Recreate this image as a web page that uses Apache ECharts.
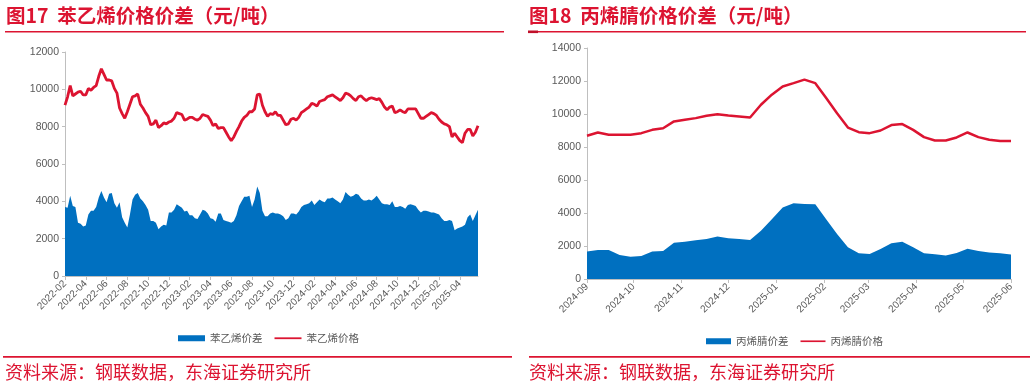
<!DOCTYPE html>
<html><head><meta charset="utf-8">
<script src="https://cdn.jsdelivr.net/npm/echarts@6/dist/echarts.min.js"></script>
<style>html,body{margin:0;padding:0;background:#fff}#c{width:1032px;height:386px}</style>
</head><body><div id="c"></div>
<script>
// ---------- Left chart (苯乙烯) : ~weekly samples, 4 per month from 2022-02 ----------
const leftTickLabels = ['2022-02','2022-04','2022-06','2022-08','2022-10','2022-12','2023-02','2023-04','2023-06','2023-08','2023-10','2023-12','2024-02','2024-04','2024-06','2024-08','2024-10','2024-12','2025-02','2025-04'];
const leftPrice = [
9150,9600,10200,9650,9750,9850,9900,9700,9700,10050,
9950,10100,10200,10700,11100,10800,10500,10500,10450,10050,
9800,9000,8700,8450,8800,9200,9600,9650,9750,9200,
9000,8750,8550,8100,8150,8350,7950,8050,8200,8150,
8250,8300,8450,8750,8700,8650,8350,8400,8500,8500,
8400,8350,8450,8650,8600,8550,8350,8050,8150,7900,
7950,7950,7700,7450,7250,7450,7750,8000,8300,8500,
8600,8800,8800,8950,9700,9750,9150,8800,8550,8700,
8650,8800,8600,8600,8350,8100,8150,8400,8450,8350,
8500,8750,8850,8950,9050,9250,9200,9100,9350,9400,
9450,9600,9650,9700,9600,9500,9400,9550,9800,9750,
9650,9500,9400,9600,9650,9500,9400,9500,9550,9500,
9450,9500,9300,9050,8900,9050,9100,8750,8800,8900,
8800,8750,8950,8950,8950,8950,8700,8450,8450,8550,
8650,8750,8700,8600,8400,8250,8150,8100,8000,7450,
7650,7450,7250,7150,7650,7850,7850,7500,7700,8050];
const leftSpread = [
3700,3650,4300,3750,3700,2850,2800,2650,2700,3300,
3500,3500,3700,4200,4550,4200,3950,4400,4450,3900,
3650,3950,3150,2850,2600,3300,4100,4350,4450,4150,
4000,3800,3550,2950,2950,2850,2500,2650,2750,2700,
3400,3400,3550,3850,3750,3650,3450,3500,3250,3250,
3100,3050,3300,3550,3500,3350,3100,3050,2900,3350,
3350,3000,2950,2900,2850,2950,3250,3750,4000,4250,
4250,4300,3700,4100,4800,4450,3500,3200,3200,3350,
3400,3350,3350,3300,3200,3000,3100,3350,3350,3300,
3450,3700,3800,3850,3900,4050,3800,3950,4100,4000,
3950,4150,4150,4200,4100,4000,3900,4100,4500,4350,
4250,4300,4400,4350,4150,4050,4050,4100,4050,4150,
4300,4100,3900,3850,3850,3800,4000,3700,3700,3750,
3700,3600,3800,3850,3800,3750,3550,3400,3500,3500,
3450,3400,3400,3350,3300,3100,2950,2950,3000,2950,
2450,2550,2600,2650,2750,3150,3300,2950,3250,3550];
const leftNames = ['苯乙烯价差','苯乙烯价格'];

// ---------- Right chart (丙烯腈) : weekly ----------
const rightDates = ['2024-09-01','2024-09-08','2024-09-15','2024-09-22','2024-09-29','2024-10-06','2024-10-13','2024-10-20','2024-10-27','2024-11-03','2024-11-10','2024-11-17','2024-11-24','2024-12-01','2024-12-08','2024-12-15','2024-12-22','2024-12-29','2025-01-05','2025-01-12','2025-01-19','2025-01-26','2025-02-02','2025-02-09','2025-02-16','2025-02-23','2025-03-02','2025-03-09','2025-03-16','2025-03-23','2025-03-30','2025-04-06','2025-04-13','2025-04-20','2025-04-27','2025-05-04','2025-05-11','2025-05-18','2025-05-25','2025-06-01'];
const rightPrice = [8680,8880,8740,8740,8740,8840,9040,9140,9550,9650,9750,9890,9990,9910,9850,9790,10560,11170,11670,11870,12080,11870,10970,10050,9180,8900,8840,9000,9330,9390,9040,8600,8390,8390,8580,8880,8600,8440,8360,8360];
const rightSpread = [1660,1760,1760,1460,1350,1400,1660,1700,2200,2260,2350,2430,2570,2470,2430,2370,2930,3620,4330,4590,4550,4530,3620,2730,1920,1560,1520,1820,2170,2260,1920,1560,1500,1420,1580,1840,1700,1600,1560,1480];
const rightTickLabels = ['2024-09','2024-10','2024-11','2024-12','2025-01','2025-02','2025-03','2025-04','2025-05','2025-06'];
const rightNames = ['丙烯腈价差','丙烯腈价格'];

const titles = ['图17  苯乙烯价格价差（元/吨）','图18  丙烯腈价格价差（元/吨）'];
const sourceText = '资料来源：钢联数据，东海证券研究所';

// ---------- build ----------
const RED = '#DC1431', BLUE = '#0070C0', GRAY = '#595959', AX = '#BFBFBF';
const CJK = '"Noto Sans CJK SC","Noto Sans",sans-serif';
const NUM = '"Liberation Sans",Arial,sans-serif';
const PER = 4; // samples per month on left axis
const leftCats = leftPrice.map((_, i) => {
  const m0 = 1 + Math.floor(i / PER);
  const y = 2022 + Math.floor(m0 / 12), m = (m0 % 12) + 1;
  return y + '-' + String(m).padStart(2, '0') + '-w' + (i % PER + 1);
});
const DAY = 86400000;
const toDay = s => { const p = s.split('-').map(Number); return Date.UTC(p[0], p[1] - 1, p[2] || 1) / DAY; };
const rightTicks = rightTickLabels.map(toDay);

const yAxisCommon = {
  type: 'value', min: 0, interval: 2000,
  axisLine: { show: true, lineStyle: { color: AX, width: 1 } },
  axisTick: { show: true, length: 3, lineStyle: { color: AX } },
  splitLine: { show: false },
  axisLabel: { color: GRAY, fontSize: 10.5, fontFamily: NUM, margin: 6, formatter: v => String(v) }
};

const chart = echarts.init(document.getElementById('c'), null, { renderer: 'canvas' });
chart.setOption({
  animation: false,
  backgroundColor: '#fff',
  grid: [
    { left: 65, top: 52, width: 413, height: 224 },
    { left: 587, top: 48, width: 424, height: 231 }
  ],
  xAxis: [
    { type: 'category', gridIndex: 0, data: leftCats, boundaryGap: false,
      axisLine: { lineStyle: { color: AX } },
      axisTick: { interval: PER * 2 - 1, length: 4, lineStyle: { color: AX } },
      axisLabel: { interval: PER * 2 - 1, rotate: 45, color: GRAY, fontSize: 10, fontFamily: NUM, margin: 6,
        formatter: (v, idx) => leftTickLabels[Math.round(idx / (PER * 2))] || '' },
      splitLine: { show: false } },
    { type: 'value', gridIndex: 1, min: rightTicks[0], max: rightTicks[rightTicks.length - 1],
      axisLine: { onZero: false, lineStyle: { color: AX } },
      axisTick: { show: true, length: 4, lineStyle: { color: AX }, customValues: rightTicks },
      axisLabel: { rotate: 45, color: GRAY, fontSize: 10, fontFamily: NUM, margin: 6, customValues: rightTicks,
        showMinLabel: true, showMaxLabel: true,
        formatter: v => { const i = rightTicks.findIndex(t => Math.abs(t - v) < 0.5); return i >= 0 ? rightTickLabels[i] : ''; } },
      splitLine: { show: false } }
  ],
  yAxis: [
    Object.assign({}, yAxisCommon, { gridIndex: 0, max: 12000 }),
    Object.assign({}, yAxisCommon, { gridIndex: 1, max: 14000 })
  ],
  legend: [
    { left: 173, top: 328, itemWidth: 27, itemHeight: 6, itemGap: 12, symbolKeepAspect: true,
      textStyle: { color: GRAY, fontSize: 10.5, fontFamily: CJK },
      data: [{ name: leftNames[0], icon: 'rect' }, { name: leftNames[1], icon: 'path://M0,0L30,0L30,2L0,2Z' }] },
    { left: 701, top: 331, itemWidth: 25, itemHeight: 6, itemGap: 12, symbolKeepAspect: true,
      textStyle: { color: GRAY, fontSize: 10.5, fontFamily: CJK },
      data: [{ name: rightNames[0], icon: 'rect' }, { name: rightNames[1], icon: 'path://M0,0L30,0L30,2L0,2Z' }] }
  ],
  series: [
    { name: leftNames[0], type: 'line', xAxisIndex: 0, yAxisIndex: 0, data: leftSpread,
      showSymbol: false, symbol: 'none', lineStyle: { width: 0, color: BLUE }, itemStyle: { color: BLUE },
      areaStyle: { color: BLUE, opacity: 1 }, z: 1 },
    { name: leftNames[1], type: 'line', xAxisIndex: 0, yAxisIndex: 0, data: leftPrice,
      showSymbol: false, symbol: 'none', lineStyle: { width: 2.8, color: RED }, itemStyle: { color: RED }, z: 2 },
    { name: rightNames[0], type: 'line', xAxisIndex: 1, yAxisIndex: 1,
      data: rightDates.map((d, i) => [toDay(d), rightSpread[i]]),
      showSymbol: false, symbol: 'none', lineStyle: { width: 0, color: BLUE }, itemStyle: { color: BLUE },
      areaStyle: { color: BLUE, opacity: 1 }, z: 1 },
    { name: rightNames[1], type: 'line', xAxisIndex: 1, yAxisIndex: 1,
      data: rightDates.map((d, i) => [toDay(d), rightPrice[i]]),
      showSymbol: false, symbol: 'none', lineStyle: { width: 2.5, color: RED }, itemStyle: { color: RED }, z: 2 }
  ],
  graphic: [
    { type: 'text', left: 6, top: 6, style: { text: titles[0], fill: RED, font: 'bold 19.5px ' + CJK } },
    { type: 'text', left: 529, top: 6, style: { text: titles[1], fill: RED, font: 'bold 19.5px ' + CJK } },
    { type: 'rect', shape: { x: 5, y: 31, width: 499, height: 1.6 }, style: { fill: RED } },
    { type: 'rect', shape: { x: 528, y: 31, width: 498, height: 1.6 }, style: { fill: RED } },
    { type: 'rect', shape: { x: 528, y: 30.5, width: 10, height: 2.6 }, style: { fill: '#C0102A' } },
    { type: 'rect', shape: { x: 3, y: 356, width: 509, height: 1.8 }, style: { fill: RED } },
    { type: 'rect', shape: { x: 529, y: 356, width: 501, height: 1.8 }, style: { fill: RED } },
    { type: 'text', left: 5, top: 363, style: { text: sourceText, fill: RED, font: '18px ' + CJK } },
    { type: 'text', left: 529, top: 363, style: { text: sourceText, fill: RED, font: '18px ' + CJK } }
  ]
});
</script></body></html>
